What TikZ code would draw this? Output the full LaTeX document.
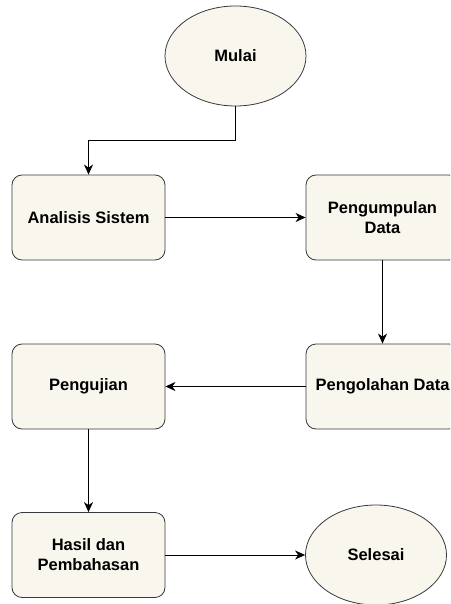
\documentclass[tikz,border=0pt]{standalone}
\usepackage{fontspec}
\setmainfont{Liberation Sans}
\usetikzlibrary{arrows.meta,shapes.geometric}
\definecolor{isian}{HTML}{F9F7ED}
\definecolor{garis}{HTML}{36393D}

\begin{document}
\begin{tikzpicture}[x=1pt,y=-1pt,
  proses/.style={draw=garis, fill=isian, rounded corners=10pt, line width=0.8pt,
    minimum width=153pt, minimum height=85pt, align=center, inner sep=2pt,
    font=\fontsize{16.5}{20}\selectfont\bfseries},
  terminal/.style={ellipse, draw=garis, fill=isian, line width=0.8pt,
    minimum width=141pt, minimum height=100pt, inner sep=1pt,
    font=\fontsize{16.5}{20}\selectfont\bfseries},
  panah/.style={-{Stealth[length=10pt,width=9pt,inset=3pt]}, line width=1pt}]
  \useasboundingbox (0,0) rectangle (450,604);
  \clip (0,0) rectangle (450,604);
  % langkah penelitian
  \node[terminal] (mulai) at (235.5,56) {Mulai};
  \node[proses] (analisis) at (88.5,217.5) {Analisis Sistem};
  \node[proses] (kumpul) at (382.5,217.5) {Pengumpulan\\Data};
  \node[proses] (olah) at (382.5,386.5) {Pengolahan Data};
  \node[proses] (uji) at (88.5,386.5) {Pengujian};
  \node[proses] (hasil) at (88.5,555) {Hasil dan\\Pembahasan};
  \node[terminal] (selesai) at (376,555) {Selesai};
  % alur
  \draw[panah] (mulai.south) -- ++(0,34) -| (analisis.north);
  \draw[panah] (analisis) -- (kumpul);
  \draw[panah] (kumpul) -- (olah);
  \draw[panah] (olah) -- (uji);
  \draw[panah] (uji) -- (hasil);
  \draw[panah] (hasil) -- (selesai);
\end{tikzpicture}
\end{document}
